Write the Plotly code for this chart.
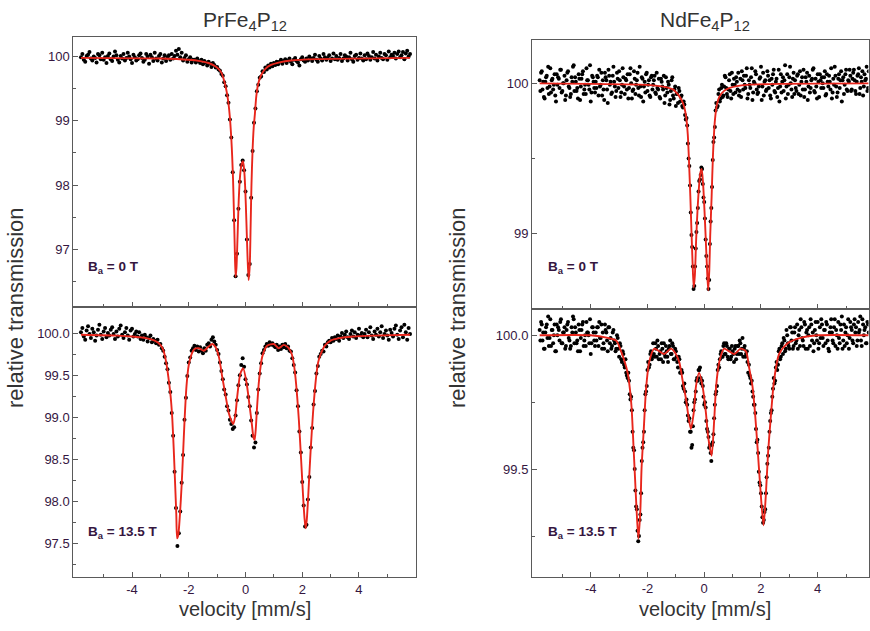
import numpy as np
import plotly.graph_objects as go

# ---------------- data ----------------
# measured spectra: one value per velocity channel, channels evenly spaced from -5.8 to 5.8 mm/s
PR_0T = [
    99.99, 100.04, 99.95, 99.92, 100.01, 100.03, 100.07, 99.97, 99.94, 100.00, 99.98, 99.91, 100.04, 100.02, 99.96, 100.06, 99.95, 99.99, 99.90, 100.01,
    100.05, 99.96, 99.93, 100.00, 100.08, 100.02, 99.95, 99.91, 100.01, 99.97, 100.04, 99.94, 99.98, 100.06, 100.00, 99.96, 99.90, 100.03, 99.99, 99.94,
    99.96, 100.02, 100.05, 99.98, 99.92, 99.95, 100.04, 100.00, 99.89, 100.03, 99.99, 99.93, 100.06, 99.97, 99.94, 100.01, 100.04, 99.91, 99.97, 100.02,
    99.93, 99.99, 100.02, 99.95, 100.04, 99.97, 100.01, 100.09, 100.03, 100.12, 99.99, 100.06, 99.94, 99.98, 100.02, 99.92, 99.96, 99.99, 99.91, 99.95,
    99.95, 99.91, 99.97, 99.93, 99.90, 99.95, 99.88, 99.93, 99.91, 99.86, 99.92, 99.89, 99.84, 99.90, 99.87, 99.83, 99.84, 99.80, 99.78, 99.73,
    99.70, 99.60, 99.54, 99.40, 99.28, 99.02, 98.74, 98.20, 97.45, 96.58, 96.93, 97.63, 98.05, 98.31, 98.38, 98.23, 97.90, 97.15, 96.60, 96.77,
    97.80, 98.53, 98.97, 99.19, 99.46, 99.56, 99.67, 99.69, 99.77, 99.76, 99.83, 99.80, 99.86, 99.83, 99.89, 99.85, 99.90, 99.87, 99.92, 99.88,
    99.92, 99.95, 99.89, 99.93, 99.96, 99.90, 99.94, 99.97, 99.92, 99.88, 99.95, 99.98, 99.93, 99.91, 99.86, 99.96, 99.99, 99.94, 99.92, 99.97,
    99.94, 100.00, 99.97, 99.93, 99.98, 100.03, 99.95, 99.92, 100.01, 99.97, 99.94, 100.04, 99.99, 99.95, 99.98, 100.02, 99.93, 99.97, 100.05, 99.96,
    100.01, 99.95, 99.98, 100.04, 99.93, 99.97, 100.02, 100.00, 99.94, 99.99, 100.06, 99.96, 99.92, 100.01, 100.03, 99.95, 99.98, 100.05, 99.97, 99.94,
    100.02, 99.96, 100.05, 100.01, 99.95, 99.99, 100.07, 99.97, 100.03, 99.94, 100.00, 100.06, 99.98, 99.96, 100.04, 100.02, 99.95, 100.08, 99.99, 100.03,
    100.01, 100.06, 99.97, 100.04, 100.08, 99.99, 100.02, 100.07, 99.96, 100.05, 100.09, 100.00, 100.04,
]
PR_135T = [
    100.01, 100.06, 99.96, 99.92, 100.03, 100.08, 99.99, 99.94, 100.05, 100.01, 99.91, 99.97, 100.04, 100.10, 99.98, 99.93, 100.02, 100.06, 99.95, 100.00,
    99.97, 100.04, 100.07, 99.99, 99.93, 100.02, 99.96, 100.05, 100.09, 99.98, 99.94, 100.01, 100.06, 99.97, 99.92, 100.03, 100.05, 99.96, 99.99, 100.02,
    99.96, 100.01, 99.93, 99.97, 99.92, 99.98, 99.95, 99.90, 99.94, 99.97, 99.89, 99.93, 99.91, 99.88, 99.92, 99.86, 99.87, 99.82, 99.79, 99.72,
    99.64, 99.57, 99.41, 99.30, 99.05, 98.78, 98.35, 97.92, 97.47, 97.62, 97.88, 98.22, 98.55, 98.97, 99.23, 99.49, 99.65, 99.71, 99.79, 99.82,
    99.85, 99.80, 99.84, 99.78, 99.83, 99.79, 99.76, 99.82, 99.79, 99.86, 99.88, 99.84, 99.92, 99.95, 99.90, 99.86, 99.80, 99.75, 99.65, 99.55,
    99.45, 99.33, 99.27, 99.13, 99.08, 98.97, 98.92, 98.86, 98.88, 99.02, 99.20, 99.38, 99.50, 99.62, 99.70, 99.60, 99.45, 99.39, 99.24, 99.13,
    98.96, 98.78, 98.64, 98.70, 99.05, 99.33, 99.52, 99.64, 99.76, 99.80, 99.84, 99.87, 99.85, 99.89, 99.86, 99.88, 99.85, 99.83, 99.86, 99.80,
    99.84, 99.81, 99.86, 99.83, 99.87, 99.82, 99.84, 99.79, 99.78, 99.70, 99.62, 99.53, 99.32, 99.13, 98.83, 98.58, 98.23, 97.95, 97.70, 97.72,
    98.02, 98.29, 98.64, 98.87, 99.15, 99.31, 99.52, 99.61, 99.72, 99.75, 99.79, 99.78, 99.86, 99.84, 99.89, 99.91, 99.89, 99.94, 99.91, 99.95,
    99.93, 99.97, 99.91, 99.96, 100.00, 99.94, 99.98, 100.02, 99.95, 99.93, 99.99, 100.03, 99.96, 100.01, 99.94, 99.98, 100.05, 99.97, 100.00, 99.95,
    99.99, 100.04, 99.95, 100.01, 100.07, 99.97, 99.93, 100.02, 99.98, 100.05, 99.96, 100.01, 100.08, 99.94, 99.99, 100.03, 99.97, 99.92, 100.04, 100.00,
    99.96, 100.05, 100.09, 99.98, 99.93, 100.03, 100.07, 99.95, 100.10, 100.01, 99.92, 100.06, 99.99,
]
ND_0T = [
    100.02, 100.07, 99.96, 99.91, 100.01, 100.05, 100.11, 99.98, 99.94, 100.03, 99.99, 99.92, 100.06, 100.04, 99.97, 100.09, 99.95, 100.00, 99.89, 100.02,
    100.08, 99.97, 99.93, 100.01, 100.12, 100.04, 99.95, 99.90, 100.03, 99.98, 100.06, 99.93, 99.99, 100.10, 100.02, 99.96, 99.88, 100.05, 100.01, 99.94,
    99.97, 100.04, 100.09, 99.99, 99.92, 99.96, 100.07, 100.02, 99.87, 100.05, 100.01, 99.94, 100.11, 99.98, 99.95, 100.03, 100.08, 99.91, 99.99, 100.04,
    99.93, 100.02, 100.06, 99.97, 100.10, 99.90, 99.96, 100.03, 99.99, 100.07, 99.92, 99.98, 100.04, 99.88, 100.01, 100.06, 99.95, 100.02, 99.91, 100.05,
    99.99, 100.05, 99.93, 99.97, 100.03, 99.90, 100.01, 99.96, 99.87, 100.04, 99.94, 99.99, 99.89, 100.02, 99.92, 99.96, 99.85, 99.93, 99.97, 99.88,
    99.92, 99.84, 99.86, 99.76, 99.72, 99.50, 99.32, 98.99, 98.78, 98.65, 98.90, 99.07, 99.28, 99.36, 99.44, 99.33, 99.21, 98.96, 98.78, 98.63,
    98.93, 99.17, 99.49, 99.64, 99.82, 99.84, 99.93, 99.88, 99.97, 99.91, 99.98, 100.04, 99.93, 99.96, 100.06, 99.90, 99.99, 100.03, 99.94, 100.01,
    100.07, 99.95, 99.91, 100.02, 100.05, 99.97, 100.10, 99.93, 99.99, 100.04, 99.89, 100.01, 100.08, 99.96, 99.94, 100.03, 100.11, 99.98, 99.92, 100.02,
    99.96, 100.05, 100.02, 99.90, 99.99, 100.09, 99.94, 100.03, 99.97, 99.88, 100.06, 100.01, 99.95, 100.12, 99.98, 99.93, 100.04, 100.00, 99.91, 100.07,
    100.02, 99.95, 100.06, 99.99, 99.92, 100.04, 100.09, 99.96, 100.01, 99.89, 100.05, 99.97, 100.03, 100.10, 99.94, 99.98, 100.06, 99.91, 100.02, 100.04,
    99.97, 100.08, 99.93, 100.01, 100.05, 99.96, 99.90, 100.03, 100.11, 99.98, 99.94, 100.06, 100.02, 99.88, 100.04, 99.99, 100.09, 99.95, 100.01, 100.05,
    99.96, 100.07, 100.02, 99.93, 100.05, 100.10, 99.97, 100.01, 99.92, 100.06, 100.03, 99.95, 100.08,
]
# the NdFe4P12 spectra have twice as many channels: second half-channels from -5.775 to 5.775 mm/s
ND_0T_HALF = [
    99.95, 100.08, 100.01, 99.90, 100.04, 99.97, 99.93, 100.10, 100.02, 99.96, 100.06, 99.88, 99.99, 100.03, 100.09, 99.94, 100.00, 100.05, 99.92, 100.07,
    99.98, 99.91, 100.04, 100.11, 99.95, 100.01, 99.97, 100.06, 99.89, 100.03, 100.08, 99.96, 99.93, 100.02, 99.99, 100.12, 99.94, 100.04, 99.97, 100.01,
    100.05, 99.92, 99.98, 100.07, 100.02, 99.89, 100.04, 99.96, 100.09, 99.99, 99.93, 100.05, 100.01, 99.91, 100.07, 99.97, 100.02, 99.94, 100.10, 99.98,
    100.03, 99.96, 99.90, 100.06, 100.00, 99.95, 100.08, 99.93, 100.02, 99.97, 100.11, 99.91, 100.03, 99.98, 99.94, 100.07, 99.99, 99.92, 100.04, 99.96,
    100.02, 99.94, 100.07, 99.96, 99.91, 100.03, 99.98, 100.05, 99.92, 99.97, 100.01, 99.86, 99.95, 100.04, 99.90, 99.98, 99.93, 99.87, 99.95, 99.91,
    99.85, 99.88, 99.79, 99.77, 99.60, 99.45, 99.14, 98.91, 98.63, 98.78, 99.01, 99.17, 99.35, 99.39, 99.43, 99.24, 99.10, 98.85, 98.70, 98.69,
    99.08, 99.31, 99.61, 99.71, 99.87, 99.85, 99.96, 99.90, 99.99, 99.92, 100.05, 99.97, 99.91, 100.02, 99.95, 100.07, 99.93, 99.99, 100.04, 99.96,
    99.92, 100.03, 100.08, 99.96, 99.99, 100.05, 99.90, 100.02, 99.97, 100.10, 99.94, 100.00, 100.06, 99.93, 99.98, 100.04, 99.89, 100.07, 100.01, 99.95,
    100.08, 99.97, 99.92, 100.03, 100.06, 99.95, 100.01, 99.91, 100.09, 99.98, 99.94, 100.04, 100.02, 99.90, 100.06, 99.99, 100.11, 99.96, 100.03, 99.93,
    99.97, 100.05, 99.93, 100.08, 100.01, 99.96, 99.91, 100.04, 100.07, 99.98, 99.94, 100.02, 100.09, 99.95, 100.03, 99.90, 100.01, 100.06, 99.97, 100.00,
    100.04, 99.92, 100.06, 99.98, 100.01, 100.10, 99.94, 99.99, 100.05, 99.91, 100.03, 99.97, 100.08, 100.02, 99.93, 100.06, 99.96, 100.02, 100.09, 99.95,
    100.03, 100.09, 99.95, 100.01, 100.06, 99.93, 100.04, 100.08, 99.98, 100.02, 100.11, 99.97,
]
ND_135T = [
    100.02, 100.05, 99.98, 99.95, 100.01, 100.04, 100.07, 99.99, 99.96, 100.02, 100.00, 99.94, 100.04, 100.03, 99.98, 100.06, 99.97, 100.01, 99.95, 100.02,
    100.05, 99.98, 99.96, 100.01, 100.06, 100.03, 99.97, 99.94, 100.02, 99.99, 100.04, 99.96, 100.00, 100.05, 100.01, 99.97, 99.93, 100.03, 100.01, 99.96,
    99.98, 100.03, 100.05, 99.99, 99.95, 99.97, 100.04, 100.01, 99.94, 100.03, 99.99, 99.96, 100.02, 99.97, 99.95, 99.99, 99.92, 99.96, 99.90, 99.93,
    99.88, 99.86, 99.84, 99.83, 99.76, 99.72, 99.58, 99.50, 99.36, 99.27, 99.25, 99.33, 99.53, 99.60, 99.72, 99.79, 99.87, 99.88, 99.93, 99.91,
    99.97, 99.92, 99.95, 99.98, 99.91, 99.94, 99.97, 99.90, 99.93, 99.96, 99.92, 99.95, 99.98, 99.93, 99.96, 99.91, 99.94, 99.90, 99.92, 99.86,
    99.87, 99.81, 99.82, 99.75, 99.74, 99.68, 99.64, 99.58, 99.66, 99.75, 99.79, 99.84, 99.87, 99.88, 99.82, 99.81, 99.74, 99.73, 99.65, 99.62,
    99.59, 99.53, 99.60, 99.69, 99.78, 99.81, 99.89, 99.91, 99.94, 99.92, 99.97, 99.93, 99.96, 99.91, 99.95, 99.92, 99.94, 99.90, 99.96, 99.93,
    99.96, 99.98, 99.93, 99.99, 99.95, 99.92, 99.94, 99.86, 99.85, 99.82, 99.79, 99.74, 99.71, 99.60, 99.56, 99.45, 99.41, 99.32, 99.31, 99.35,
    99.47, 99.55, 99.64, 99.71, 99.77, 99.84, 99.83, 99.90, 99.89, 99.95, 99.92, 99.97, 99.99, 99.94, 100.02, 99.97, 99.95, 100.03, 100.01, 99.96,
    100.03, 99.98, 99.95, 100.02, 100.06, 99.99, 99.96, 100.04, 100.01, 99.95, 100.03, 100.06, 99.98, 99.94, 100.02, 100.00, 100.05, 99.97, 99.99, 100.04,
    99.96, 100.02, 100.05, 99.98, 99.94, 100.03, 100.01, 99.97, 100.06, 100.02, 99.95, 99.99, 100.04, 100.07, 99.98, 99.96, 100.03, 100.00, 99.95, 100.05,
    100.02, 99.97, 100.06, 100.03, 99.98, 100.01, 100.07, 99.96, 100.04, 100.02, 99.97, 100.05, 100.01,
]
ND_135T_HALF = [
    99.98, 100.04, 100.01, 99.95, 100.03, 99.99, 99.96, 100.06, 100.02, 99.97, 100.04, 99.94, 100.00, 100.02, 100.05, 99.97, 100.01, 100.03, 99.96, 100.04,
    99.99, 99.95, 100.03, 100.07, 99.97, 100.01, 99.98, 100.04, 99.94, 100.02, 100.05, 99.98, 99.96, 100.01, 100.00, 100.06, 99.97, 100.03, 99.98, 100.01,
    100.03, 99.96, 99.99, 100.04, 100.01, 99.95, 100.02, 99.98, 100.03, 99.97, 99.95, 100.01, 99.98, 99.94, 100.00, 99.95, 99.97, 99.91, 99.94, 99.89,
    99.91, 99.85, 99.86, 99.78, 99.77, 99.64, 99.57, 99.42, 99.35, 99.23, 99.31, 99.41, 99.58, 99.64, 99.78, 99.81, 99.90, 99.89, 99.94, 99.92,
    99.93, 99.97, 99.92, 99.96, 99.93, 99.91, 99.95, 99.97, 99.92, 99.94, 99.90, 99.96, 99.93, 99.97, 99.91, 99.95, 99.92, 99.88, 99.91, 99.86,
    99.86, 99.80, 99.79, 99.76, 99.70, 99.69, 99.64, 99.59, 99.72, 99.76, 99.83, 99.83, 99.87, 99.84, 99.83, 99.77, 99.75, 99.68, 99.64, 99.58,
    99.56, 99.59, 99.63, 99.74, 99.79, 99.87, 99.88, 99.93, 99.92, 99.96, 99.93, 99.97, 99.92, 99.95, 99.91, 99.96, 99.93, 99.95, 99.91, 99.96,
    99.93, 99.97, 99.95, 99.92, 99.96, 99.93, 99.90, 99.89, 99.84, 99.83, 99.77, 99.74, 99.65, 99.61, 99.49, 99.44, 99.36, 99.30, 99.34, 99.41,
    99.52, 99.58, 99.68, 99.72, 99.80, 99.82, 99.88, 99.87, 99.94, 99.91, 99.96, 99.93, 99.98, 99.95, 100.00, 99.96, 100.03, 99.98, 99.95, 100.01,
    99.97, 100.04, 100.00, 99.96, 100.03, 99.98, 100.05, 99.95, 100.02, 100.00, 99.96, 100.04, 100.01, 99.97, 100.05, 99.98, 99.95, 100.03, 100.06, 99.99,
    100.02, 99.97, 100.04, 99.95, 100.01, 100.06, 99.98, 100.03, 99.96, 100.00, 100.05, 99.97, 100.02, 99.95, 100.04, 100.01, 99.97, 100.06, 99.99, 100.03,
    99.98, 100.04, 100.01, 99.96, 100.05, 100.02, 99.98, 100.06, 100.00, 100.03, 99.97, 100.04,
]

# fitted curves (velocity, transmission)
PR_0T_FIT_V = [-5.8, -3.0, -2.0, -1.6, -1.3, -1.1, -0.95, -0.85, -0.75, -0.70, -0.65, -0.60, -0.55, -0.50, -0.47, -0.44, -0.41, -0.38, -0.35, -0.32,
               -0.28, -0.24, -0.19, -0.14, -0.09, -0.05, -0.01, 0.03, 0.07, 0.11, 0.15, 0.18, 0.21, 0.25, 0.29, 0.33, 0.38, 0.45, 0.55, 0.70,
               0.90, 1.2, 1.6, 2.5, 5.8]
PR_0T_FIT_Y = [99.98, 99.97, 99.95, 99.93, 99.90, 99.86, 99.81, 99.75, 99.62, 99.53, 99.42, 99.27, 99.05, 98.72, 98.45, 98.10, 97.60, 97.05, 96.57, 96.70,
               97.20, 97.75, 98.15, 98.32, 98.37, 98.25, 97.95, 97.45, 96.90, 96.52, 96.75, 97.35, 98.00, 98.55, 98.90, 99.10, 99.38, 99.58, 99.71, 99.81,
               99.87, 99.91, 99.94, 99.96, 99.98]
PR_135T_FIT_V = [-5.8, -4.5, -4.0, -3.5, -3.2, -3.0, -2.9, -2.8, -2.72, -2.64, -2.58, -2.53, -2.48, -2.44, -2.41, -2.37, -2.31, -2.25, -2.20, -2.15,
                 -2.08, -2.0, -1.9, -1.8, -1.64, -1.47, -1.3, -1.17, -1.05, -0.94, -0.82, -0.70, -0.59, -0.50, -0.43, -0.36, -0.29, -0.18, -0.08, 0.04,
                 0.15, 0.23, 0.28, 0.32, 0.36, 0.41, 0.48, 0.59, 0.76, 1.0, 1.17, 1.35, 1.50, 1.62, 1.70, 1.76, 1.82, 1.88, 1.96, 2.03,
                 2.08, 2.12, 2.16, 2.21, 2.29, 2.38, 2.48, 2.56, 2.64, 2.8, 3.0, 3.3, 3.8, 4.5, 5.8]
PR_135T_FIT_Y = [99.98, 99.97, 99.96, 99.94, 99.91, 99.86, 99.80, 99.66, 99.48, 99.25, 98.98, 98.62, 98.20, 97.85, 97.56, 97.60, 97.85, 98.20, 98.57, 98.95,
                 99.37, 99.62, 99.75, 99.81, 99.82, 99.79, 99.84, 99.87, 99.83, 99.72, 99.48, 99.25, 99.05, 98.96, 98.92, 99.02, 99.25, 99.52, 99.58, 99.40,
                 99.12, 98.90, 98.76, 98.73, 98.85, 99.13, 99.45, 99.72, 99.85, 99.87, 99.82, 99.86, 99.83, 99.76, 99.64, 99.48, 99.25, 98.97, 98.50, 98.06,
                 97.80, 97.68, 97.78, 98.06, 98.57, 99.05, 99.45, 99.65, 99.74, 99.85, 99.91, 99.94, 99.96, 99.97, 99.98]
ND_0T_FIT_V = [-5.8, -2.0, -1.5, -1.1, -0.9, -0.8, -0.7, -0.64, -0.58, -0.53, -0.49, -0.45, -0.41, -0.37, -0.33, -0.28, -0.21, -0.14, -0.09, -0.04,
               0.01, 0.05, 0.10, 0.14, 0.18, 0.21, 0.26, 0.31, 0.38, 0.45, 0.53, 0.7, 0.9, 1.5, 5.8]
ND_0T_FIT_Y = [100.0, 99.99, 99.98, 99.96, 99.92, 99.89, 99.84, 99.78, 99.66, 99.45, 99.25, 99.02, 98.80, 98.64, 98.72, 98.98, 99.24, 99.40, 99.43, 99.33,
               99.15, 98.98, 98.76, 98.62, 98.76, 98.98, 99.24, 99.53, 99.76, 99.86, 99.91, 99.95, 99.97, 99.99, 100.0]
ND_135T_FIT_V = [-5.8, -4.0, -3.4, -3.1, -2.93, -2.8, -2.70, -2.62, -2.56, -2.49, -2.44, -2.39, -2.32, -2.25, -2.21, -2.13, -2.05, -1.94, -1.76, -1.58,
                 -1.41, -1.17, -1.0, -0.88, -0.76, -0.64, -0.56, -0.47, -0.37, -0.29, -0.18, -0.06, 0.06, 0.14, 0.26, 0.35, 0.42, 0.53, 0.70, 0.88,
                 1.06, 1.29, 1.47, 1.58, 1.70, 1.79, 1.88, 1.97, 2.09, 2.17, 2.25, 2.35, 2.46, 2.64, 2.94, 3.4, 4.0, 5.8]
ND_135T_FIT_Y = [100.0, 100.0, 99.99, 99.98, 99.94, 99.90, 99.86, 99.80, 99.73, 99.58, 99.47, 99.36, 99.24, 99.35, 99.50, 99.65, 99.80, 99.90, 99.95, 99.94,
                 99.93, 99.95, 99.93, 99.90, 99.83, 99.76, 99.70, 99.65, 99.71, 99.81, 99.86, 99.81, 99.71, 99.62, 99.55, 99.68, 99.81, 99.90, 99.95, 99.94,
                 99.93, 99.95, 99.94, 99.88, 99.81, 99.71, 99.58, 99.44, 99.29, 99.40, 99.56, 99.70, 99.83, 99.93, 99.97, 99.99, 100.0, 100.0]

X_TICKS = [-4, -2, 0, 2, 4]
X_TICK_TEXT = ["-4", "-2", "0", "2", "4"]
X_MINOR = [-5, -3, -1, 1, 3, 5]
TITLES = ["PrFe<sub>4</sub>P<sub>12</sub>", "NdFe<sub>4</sub>P<sub>12</sub>"]
FIELD_LABELS = ["<b>B<sub>a</sub> = 0 T</b>", "<b>B<sub>a</sub> = 13.5 T</b>"]

# ---------------- figure ----------------
W, H = 870, 631
RED = "#e8261c"
TXT = "#35163f"
AX = "#5a5a5a"
FONT = "Liberation Sans, Arial, sans-serif"

def px_x(p):
    return p / W

def px_y(p):
    return 1 - p / H

# (list of (values, first channel, last channel), fit v, fit y, axis suffix)
panels = [
    ([(PR_0T, -5.8, 5.8)], PR_0T_FIT_V, PR_0T_FIT_Y, ""),
    ([(PR_135T, -5.8, 5.8)], PR_135T_FIT_V, PR_135T_FIT_Y, "2"),
    ([(ND_0T, -5.8, 5.8), (ND_0T_HALF, -5.775, 5.775)], ND_0T_FIT_V, ND_0T_FIT_Y, "3"),
    ([(ND_135T, -5.8, 5.8), (ND_135T_HALF, -5.775, 5.775)], ND_135T_FIT_V, ND_135T_FIT_Y, "4"),
]

fig = go.Figure()
for specs, fv, fy, s in panels:
    for spec, v0, v1 in specs:
        v = np.linspace(v0, v1, len(spec))
        fig.add_trace(go.Scatter(x=v, y=spec, mode="markers", xaxis="x" + s, yaxis="y" + s,
                                 marker=dict(size=4, color="black"), showlegend=False, hoverinfo="skip"))
    fig.add_trace(go.Scatter(x=fv, y=fy, mode="lines", xaxis="x" + s, yaxis="y" + s,
                             line=dict(color=RED, width=1.9, shape="spline", smoothing=0.7),
                             showlegend=False, hoverinfo="skip"))

common = dict(showline=True, linecolor=AX, linewidth=1, mirror=True, ticks="inside",
              tickcolor=AX, ticklen=5, showgrid=False, zeroline=False,
              tickfont=dict(family=FONT, size=13, color=TXT))

xl = [px_x(73.3), px_x(416)]
xr = [px_x(532), px_x(868.5)]
b_left = px_y(307)
b_right = px_y(308.5)

def xax(domain, rng, anchor, labels):
    d = dict(common)
    d.update(domain=domain, range=rng, anchor=anchor, tickvals=X_TICKS, ticktext=X_TICK_TEXT,
             showticklabels=labels,
             minor=dict(tickvals=X_MINOR, ticks="inside", ticklen=3, tickcolor=AX))
    return d

def yax(domain, rng, anchor, vals, text, minor):
    d = dict(common)
    d.update(domain=domain, range=rng, anchor=anchor, tickvals=vals, ticktext=text,
             minor=dict(tickvals=minor, ticks="inside", ticklen=3, tickcolor=AX))
    return d

fig.update_layout(
    width=W, height=H, margin=dict(l=0, r=0, t=0, b=0),
    paper_bgcolor="white", plot_bgcolor="white", showlegend=False,
    xaxis=xax(xl, [-6.07, 6.01], "y", False),
    yaxis=yax([b_left, px_y(36.7)], [96.10, 100.31], "x",
              [97, 98, 99, 100], ["97", "98", "99", "100"], [96.5, 97.5, 98.5, 99.5]),
    xaxis2=xax(xl, [-6.07, 6.01], "y2", True),
    yaxis2=yax([px_y(577), b_left], [97.10, 100.31], "x2",
               [97.5, 98.0, 98.5, 99.0, 99.5, 100.0], ["97.5", "98.0", "98.5", "99.0", "99.5", "100.0"],
               [97.25, 97.75, 98.25, 98.75, 99.25, 99.75]),
    xaxis3=xax(xr, [-6.07, 5.79], "y3", False),
    yaxis3=yax([b_right, px_y(40.3)], [98.50, 100.287], "x3",
               [99, 100], ["99", "100"], [99.5]),
    xaxis4=xax(xr, [-6.07, 5.79], "y4", True),
    yaxis4=yax([px_y(576.7), b_right], [99.098, 100.10], "x4",
               [99.5, 100.0], ["99.5", "100.0"], [99.25, 99.75]),
)

ann = []
for cx, title in zip([245, 705], TITLES):
    ann.append(dict(text=title, x=px_x(cx), y=px_y(21), xref="paper", yref="paper",
                    showarrow=False, xanchor="center", yanchor="middle",
                    font=dict(family=FONT, size=21, color="#333333")))
    ann.append(dict(text="velocity [mm/s]", x=px_x(cx), y=px_y(609), xref="paper", yref="paper",
                    showarrow=False, xanchor="center", yanchor="middle",
                    font=dict(family=FONT, size=20, color="#333333")))
for cx in [15, 457]:
    ann.append(dict(text="relative transmission", x=px_x(cx), y=px_y(308), xref="paper", yref="paper",
                    showarrow=False, textangle=-90, xanchor="center", yanchor="middle",
                    font=dict(family=FONT, size=22, color="#333333")))
for lx in [86, 546]:
    for ly, lab in zip([267, 532], FIELD_LABELS):
        ann.append(dict(text=lab, x=px_x(lx), y=px_y(ly), xref="paper", yref="paper",
                        showarrow=False, xanchor="left", yanchor="middle",
                        font=dict(family=FONT, size=13.5, color=TXT)))
fig.update_layout(annotations=ann)

fig.write_html("out.html")
